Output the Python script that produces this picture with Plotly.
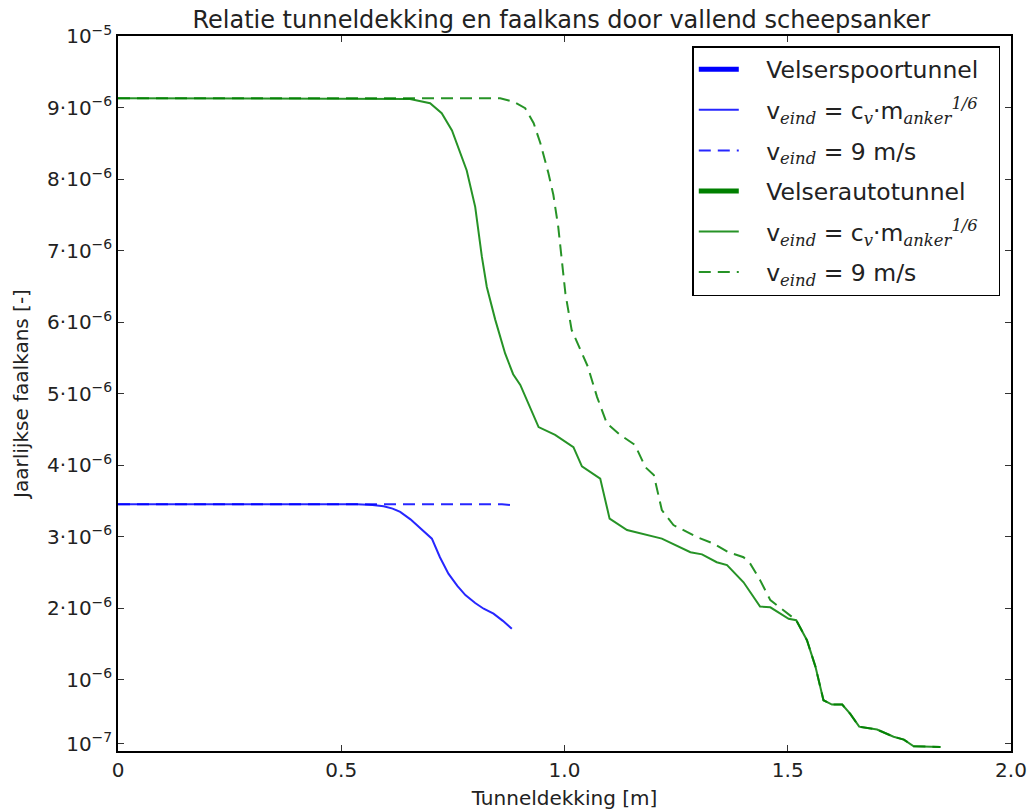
import numpy as np
import plotly.graph_objects as go

# ---- data (y in units of 1e-6 per year) ----
spoor_dash_x = [0, 0.2, 0.4, 0.6, 0.8, 0.86, 0.882]
spoor_dash_y = [3.452, 3.452, 3.452, 3.452, 3.45, 3.45, 3.44]

spoor_solid_x = [0, 0.25, 0.5, 0.535, 0.57, 0.595, 0.615, 0.632, 0.655, 0.677, 0.703, 0.721, 0.740, 0.760,
                 0.778, 0.800, 0.819, 0.841, 0.862, 0.882]
spoor_solid_y = [3.452, 3.452, 3.452, 3.45, 3.44, 3.424, 3.39, 3.344, 3.24, 3.11, 2.97, 2.71, 2.48, 2.31,
                 2.18, 2.07, 1.99, 1.92, 1.82, 1.71]

auto_solid_x = [0, 0.3, 0.6, 0.654, 0.699, 0.725, 0.748, 0.781, 0.800, 0.807, 0.815, 0.826, 0.845,
                0.867, 0.885, 0.901, 0.919, 0.942, 0.979, 1.020, 1.039, 1.080, 1.101, 1.140, 1.218,
                1.282, 1.308, 1.341, 1.364, 1.401, 1.438, 1.461, 1.502, 1.519, 1.543, 1.562, 1.580,
                1.599, 1.622, 1.640, 1.660, 1.700, 1.737, 1.760, 1.782, 1.842]
auto_solid_y = [9.13, 9.13, 9.13, 9.12, 9.06, 8.92, 8.68, 8.12, 7.61, 7.29, 6.91, 6.49, 6.03,
                5.56, 5.27, 5.12, 4.86, 4.53, 4.42, 4.25, 3.98, 3.81, 3.25, 3.09, 2.97,
                2.78, 2.75, 2.64, 2.60, 2.36, 2.02, 2.01, 1.85, 1.83, 1.55, 1.18, 0.71,
                0.65, 0.65, 0.52, 0.34, 0.30, 0.20, 0.16, 0.066, 0.056]

auto_dash_x = [0, 0.3, 0.6, 0.856, 0.886, 0.912, 0.931, 0.946, 0.964, 0.975, 0.986, 0.994, 1.002,
               1.016, 1.035, 1.052, 1.073, 1.095, 1.125, 1.158, 1.181, 1.200, 1.218, 1.244, 1.297,
               1.334, 1.367, 1.401, 1.416, 1.438, 1.461, 1.487, 1.513, 1.519, 1.543, 1.562, 1.580,
               1.599, 1.622, 1.640, 1.660, 1.700, 1.737, 1.760, 1.782, 1.842]
auto_dash_y = [9.13, 9.13, 9.13, 9.13, 9.08, 8.99, 8.78, 8.50, 8.08, 7.78, 7.33, 6.87, 6.40,
               5.89, 5.61, 5.38, 4.95, 4.58, 4.42, 4.28, 3.97, 3.86, 3.37, 3.16, 2.99,
               2.90, 2.78, 2.71, 2.62, 2.39, 2.11, 1.99, 1.87, 1.83, 1.55, 1.18, 0.71,
               0.65, 0.65, 0.52, 0.34, 0.30, 0.20, 0.16, 0.066, 0.056]

y_tick_vals = [1e-7, 1e-6, 2e-6, 3e-6, 4e-6, 5e-6, 6e-6, 7e-6, 8e-6, 9e-6, 1e-5]
y_tick_text = ["10<sup>\u22127</sup>", "10<sup>\u22126</sup>", "2\u00b710<sup>\u22126</sup>",
               "3\u00b710<sup>\u22126</sup>", "4\u00b710<sup>\u22126</sup>", "5\u00b710<sup>\u22126</sup>",
               "6\u00b710<sup>\u22126</sup>", "7\u00b710<sup>\u22126</sup>", "8\u00b710<sup>\u22126</sup>",
               "9\u00b710<sup>\u22126</sup>", "10<sup>\u22125</sup>"]
x_tick_vals = [0, 0.5, 1.0, 1.5, 2.0]
x_tick_text = ["0", "0.5", "1.0", "1.5", "2.0"]

SCALE = 1e-6
BLUE = "#0000ff"
BLUE_T = "rgba(0,0,255,0.85)"
GREEN = "#008000"
GREEN_T = "rgba(0,128,0,0.85)"

def mi(s):
    return "<span style=\"font-family:'DejaVu Serif'\"><i>" + s + "</i></span>"

PAD = "\u00a0\u00a0\u00a0"
lab_spoor = PAD + "Velserspoortunnel\u00a0\u00a0"
lab_auto = PAD + "Velserautotunnel"
lab_formula = PAD + "v<sub>" + mi("eind") + "</sub> = c<sub>" + mi("v") + "</sub>\u00b7m<sub>" + mi("anker") + "</sub><sup>" + mi("1/6") + "</sup>"
lab_9 = PAD + "v<sub>" + mi("eind") + "</sub> = 9 m/s"

DASH = "12px,7px"

fig = go.Figure()
fig.add_trace(go.Scatter(x=[None], y=[None], mode="lines", name=lab_spoor,
                         line=dict(color=BLUE, width=5), legendgroup="a"))
fig.add_trace(go.Scatter(x=spoor_solid_x, y=np.array(spoor_solid_y) * SCALE, mode="lines",
                         name=lab_formula, line=dict(color=BLUE_T, width=2), legendgroup="b"))
fig.add_trace(go.Scatter(x=spoor_dash_x, y=np.array(spoor_dash_y) * SCALE, mode="lines",
                         name=lab_9, line=dict(color=BLUE_T, width=2, dash=DASH), legendgroup="c"))
fig.add_trace(go.Scatter(x=[None], y=[None], mode="lines", name=lab_auto,
                         line=dict(color=GREEN, width=5), legendgroup="d"))
fig.add_trace(go.Scatter(x=auto_solid_x, y=np.array(auto_solid_y) * SCALE, mode="lines",
                         name=lab_formula, line=dict(color=GREEN_T, width=2), legendgroup="e"))
fig.add_trace(go.Scatter(x=auto_dash_x, y=np.array(auto_dash_y) * SCALE, mode="lines",
                         name=lab_9, line=dict(color=GREEN_T, width=2, dash=DASH), legendgroup="f"))

axis_common = dict(showline=True, linecolor="black", linewidth=1.5, mirror="ticks",
                   ticks="inside", ticklen=6, tickwidth=1, tickcolor="#333333",
                   showgrid=False, zeroline=False, automargin=False,
                   tickfont=dict(family="DejaVu Sans", size=20, color="#222222"))

fig.update_layout(
    width=1033, height=812,
    margin=dict(l=118, r=22, t=36, b=61),
    paper_bgcolor="white", plot_bgcolor="white",
    font=dict(family="DejaVu Sans", color="#222222"),
    title=dict(text="Relatie tunneldekking en faalkans door vallend scheepsanker",
               x=0.5434, xanchor="center", y=1 - 20 / 812, yanchor="middle", yref="container",
               font=dict(size=24, family="DejaVu Sans", color="#222222")),
    xaxis=dict(range=[0, 2.0], tickvals=x_tick_vals, ticktext=x_tick_text,
               title=dict(text="Tunneldekking [m]", font=dict(size=20), standoff=10),
               **axis_common),
    yaxis=dict(range=[0, 1e-5], tickvals=y_tick_vals, ticktext=y_tick_text,
               title=dict(text="Jaarlijkse faalkans [-]", font=dict(size=20), standoff=13),
               **axis_common),
    legend=dict(x=0.988, xanchor="right", y=0.986, yanchor="top",
                bgcolor="white", bordercolor="black", borderwidth=1.5,
                font=dict(size=23.5, family="DejaVu Sans", color="#222222"),
                traceorder="grouped", tracegroupgap=7, itemwidth=40),
    showlegend=True,
)

fig.write_html("out.html")
